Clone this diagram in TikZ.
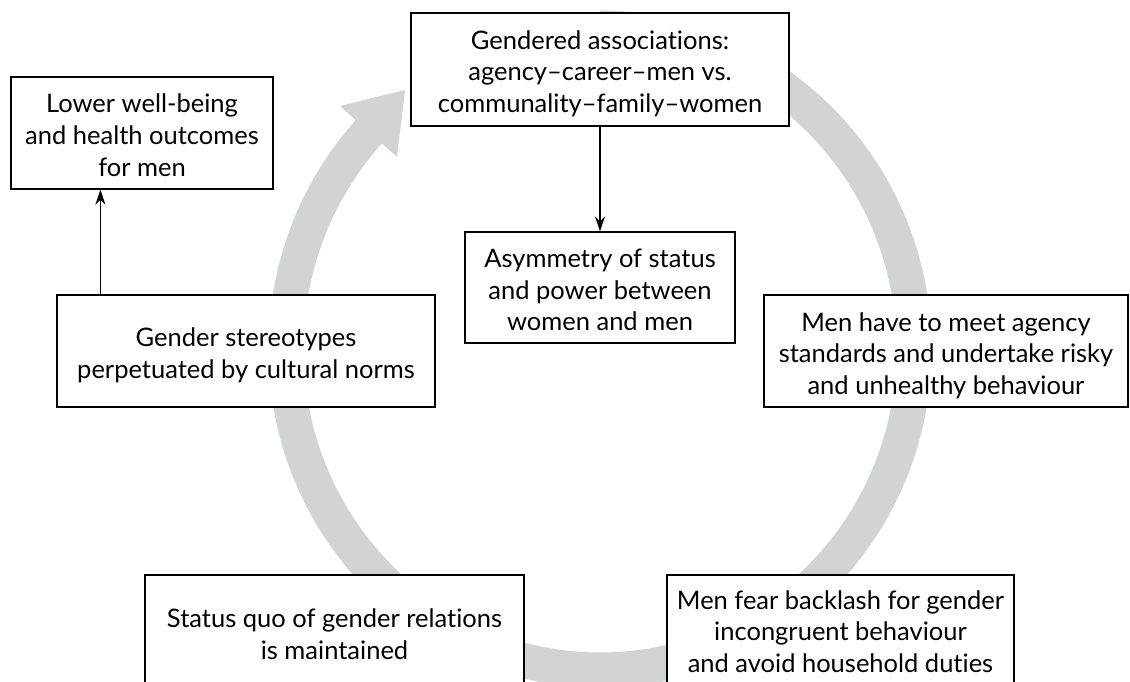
\documentclass[tikz,border=0pt]{standalone}
\usepackage{fontspec}
\setmainfont{Lato}[Ligatures={NoCommon}]
\usetikzlibrary{arrows.meta}
\definecolor{ringgrey}{HTML}{D1D3D4}
\newcommand\topstrut{\rule{0pt}{30pt}}
\newcommand\botstrut{\rule[-7pt]{0pt}{7pt}}
\tikzset{
  box/.style={draw, line width=1.2pt, fill=white, align=center, inner sep=0pt,
    font=\fontsize{25.5}{31.5}\selectfont},
  arr/.style={line width=1.2pt, -{Stealth[length=15pt,width=10pt]}},
  ring/.style={line width=35pt, draw=ringgrey},
}
\begin{document}
\begin{tikzpicture}[x=1pt,y=-1pt]
\path[use as bounding box, fill=white] (0,0) rectangle (1130,682);
% grey cycle ring
\coordinate (c) at (600,349);
\draw[ring] (c) ++(-90:321) arc[start angle=-90, end angle=223.5, x radius=314, y radius=321];
\fill[ringgrey] (405,90) -- (340,106) -- (397,157) -- cycle;
% boxes
\node[box, minimum width=378pt, minimum height=113pt] (top) at (600,69.5)
  {\topstrut Gendered associations:\\agency--career--men vs.\\communality--family--women\botstrut};
\node[box, minimum width=270pt, minimum height=111pt] (asym) at (600,287.5)
  {\topstrut Asymmetry of status\\and power between\\women and men\botstrut};
\node[box, minimum width=262pt, minimum height=112pt] (lower) at (142,133)
  {\topstrut Lower well-being\\and health outcomes\\for men\botstrut};
\node[box, minimum width=378pt, minimum height=112pt] (stereo) at (246,351)
  {\topstrut Gender stereotypes\\perpetuated by cultural norms\botstrut};
\node[box, minimum width=364pt, minimum height=112pt] (agency) at (946,351)
  {\topstrut Men have to meet agency\\standards and undertake risky\\and unhealthy behaviour\botstrut};
\node[box, minimum width=379pt, minimum height=114pt] (quo) at (334.5,632)
  {\topstrut Status quo of gender relations\\is maintained\botstrut};
\node[box, minimum width=347pt, minimum height=108pt] (fear) at (840.5,629)
  {\topstrut Men fear backlash for gender\\incongruent behaviour\\and avoid household duties\botstrut};
% connectors
\draw[arr] (top.south) -- (asym.north);
\coordinate (up) at ([xshift=44pt]stereo.north west);
\draw[arr] (up) -- (up |- lower.south);
\end{tikzpicture}
\end{document}
